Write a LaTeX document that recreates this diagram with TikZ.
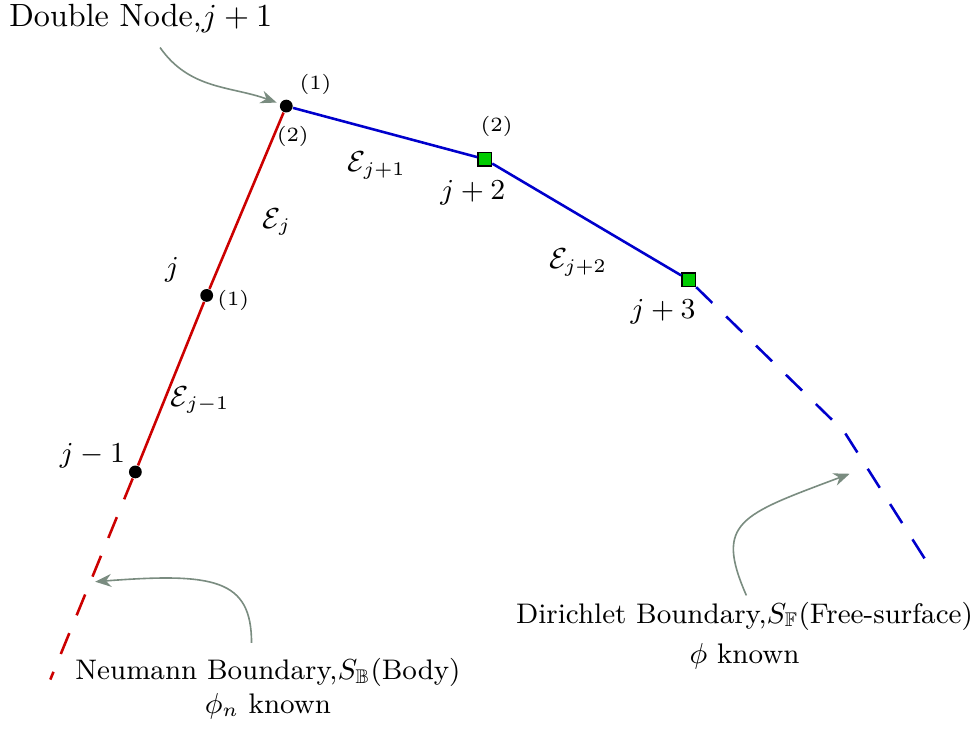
\documentclass[tikz,border=0pt]{standalone}
\usepackage{amsmath}
\usepackage{amssymb}
\usepackage{tikz}
\usetikzlibrary{arrows.meta,positioning,calc}
\usepackage{xcolor}
\definecolor{bodyRed}{RGB}{204,0,0}
\definecolor{surfBlue}{RGB}{0,0,204}
\definecolor{nodeGreen}{RGB}{0,204,0}
\definecolor{pointerGray}{RGB}{122,140,128}
\tikzset{
    bodyDot/.style={
        circle,
        fill=black,
        inner sep=0pt,
        minimum size=0.14cm
    },
    surfSquare/.style={
        rectangle,
        draw=black,
        fill=nodeGreen,
        line width=0.4pt,
        inner sep=0pt,
        minimum size=0.15cm
    },
    bodyLine/.style={draw=bodyRed, line width=0.8pt},
    surfLine/.style={draw=surfBlue, line width=0.8pt},
    dashLine/.style={dash pattern=on 7pt off 6pt},
    pointer/.style={
        draw=pointerGray,
        line width=0.5pt,
        -{Stealth[length=5pt,width=4pt]}
    },
    sideLabel/.style={font=\fontsize{6.3}{7.5}\selectfont},
    edgeLabel/.style={font=\small},
    caption/.style={font=\fontsize{8.8}{10.6}\selectfont, align=center}
}
\begin{document}
\begin{tikzpicture}
    \useasboundingbox (0,0) rectangle (10.66,7.97);

    % Nodes on the body (Neumann side)
    \node[bodyDot] (dbl) at (3.13,6.81) {};
    \node[bodyDot] (nj) at (2.26,4.74) {};
    \node[bodyDot] (njm) at (1.48,2.81) {};
    \coordinate (bodyEnd) at (0.55,0.54);

    % Nodes on the free surface (Dirichlet side)
    \node[surfSquare] (njpb) at (5.30,6.23) {};
    \node[surfSquare] (njpc) at (7.53,4.91) {};
    \coordinate (surfKnee) at (9.23,3.25);
    \coordinate (surfEnd) at (10.20,1.72);

    % Boundary elements
    \draw[bodyLine] (njm) -- (nj) -- (dbl);
    \draw[bodyLine, dashLine] (njm) -- (bodyEnd);
    \draw[surfLine] (dbl) -- (njpb) -- (njpc);
    \draw[surfLine, dashLine] (njpc) -- (surfKnee) -- (surfEnd);

    % Element and node labels
    \node[edgeLabel] (lblEb) at (4.12,6.16) {$\mathcal{E}_{j+1}$};
    \node[edgeLabel] (lblEa) at (3.03,5.54) {$\mathcal{E}_{j}$};
    \node[edgeLabel] (lblEc) at (6.32,5.10) {$\mathcal{E}_{j+2}$};
    \node[edgeLabel] (lblEz) at (2.19,3.60) {$\mathcal{E}_{j-1}$};
    \node[edgeLabel] (lblj) at (1.88,5.02) {$j$};
    \node[edgeLabel] (lbljm) at (1.01,2.99) {$j-1$};
    \node[edgeLabel] (lbljpb) at (5.17,5.86) {$j+2$};
    \node[edgeLabel] (lbljpc) at (7.25,4.56) {$j+3$};

    % Local numbering
    \node[sideLabel] (dblOne) at (3.45,7.05) {(1)};
    \node[sideLabel] (dblTwo) at (3.20,6.48) {(2)};
    \node[sideLabel] (njOne) at (2.55,4.68) {(1)};
    \node[sideLabel] (njpbTwo) at (5.43,6.59) {(2)};

    % Captions and pointers
    \node (dblText) at (1.54,7.77) {Double Node,$j+1$};
    \coordinate (dblFrom) at (1.75,7.45);
    \draw[pointer, shorten >=1pt] (dblFrom) to[out=-55,in=160] (dbl);

    \node[caption] (neuText) at (2.93,0.44) {Neumann Boundary,$S_{\mathbb{B}}$(Body)\\$\phi_n$ known};
    \coordinate (neuFrom) at (2.75,0.94);
    \coordinate (neuTip) at (1.04,1.61);
    \draw[pointer] (neuFrom) .. controls +(0,0.7) and +(1.3,0.1) .. (neuTip);

    \node[caption] (dirText) at (8.14,1.02) {Dirichlet Boundary,$S_{\mathbb{F}}$(Free-surface)\\[2pt]$\phi$ known};
    \coordinate (dirFrom) at (8.16,1.46);
    \coordinate (dirTip) at (9.29,2.79);
    \draw[pointer] (dirFrom) .. controls +(-0.35,0.8) and +(-1.2,-0.45) .. (dirTip);

\end{tikzpicture}
\end{document}
